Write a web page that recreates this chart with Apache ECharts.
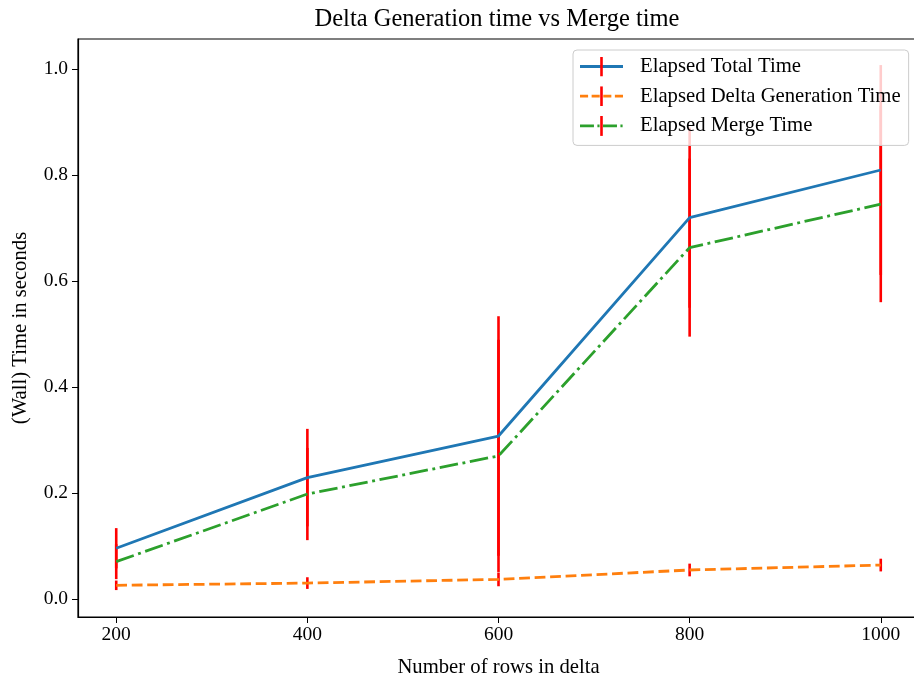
<!DOCTYPE html>
<html>
<head>
<meta charset="utf-8">
<script src="https://cdn.jsdelivr.net/npm/echarts@6/dist/echarts.min.js"></script>
<style>
  html, body { margin: 0; padding: 0; background: #fff; }
  #chart { width: 914px; height: 679px; }
</style>
</head>
<body>
<div id="chart"></div>
<script>
// data
let rows = [200, 400, 600, 800, 1000];
let totalTime = [0.0957, 0.229, 0.3075, 0.7195, 0.8094];
let deltaTime = [0.0258, 0.030, 0.037, 0.0547, 0.064];
let mergeTime = [0.0704, 0.198, 0.270, 0.663, 0.745];
// error (half height of the red bars)
let totalErr = [0.038, 0.092, 0.226, 0.170, 0.198];
let deltaErr = [0.009, 0.011, 0.013, 0.012, 0.012];
let mergeErr = [0.033, 0.087, 0.219, 0.168, 0.185];

let xTicks = [200, 400, 600, 800, 1000];
let yTicks = [0, 0.2, 0.4, 0.6, 0.8, 1.0];

let names = ['Elapsed Total Time', 'Elapsed Delta Generation Time', 'Elapsed Merge Time'];
let colors = ['#1f77b4', '#ff7f0e', '#2ca02c'];
let dashes = ['solid', [10.8, 4.7], [18.6, 4.6, 2.9, 4.6]];

let font = '"Liberation Serif", "Times New Roman", serif';

function pairs(ys) {
  let out = [];
  for (let i = 0; i < rows.length; i++) out.push([rows[i], ys[i]]);
  return out;
}

function errData(ys, es) {
  let out = [];
  for (let i = 0; i < rows.length; i++) out.push([rows[i], ys[i] - es[i], ys[i] + es[i]]);
  return out;
}

// legend icon: coloured line crossed by the red error bar
function legendIcon(color, dash) {
  let da = dash === 'solid' ? '' : ' stroke-dasharray="' + dash.map(function (d) { return d * 0.75; }).join(',') + '"';
  let svg = '<svg xmlns="http://www.w3.org/2000/svg" width="43" height="20">' +
    '<line x1="0" y1="10" x2="43" y2="10" stroke="' + color + '" stroke-width="2.8"' + da + '/>' +
    '<line x1="21.5" y1="0" x2="21.5" y2="20" stroke="#ff0000" stroke-width="2.6"/></svg>';
  return 'image://data:image/svg+xml;charset=utf-8,' + encodeURIComponent(svg);
}

function lineSerie(i, ys) {
  return {
    name: names[i],
    type: 'line',
    data: pairs(ys),
    symbol: 'none',
    showSymbol: false,
    z: 3,
    lineStyle: { color: colors[i], width: 2.8, type: dashes[i], cap: 'butt' },
    itemStyle: { color: colors[i] }
  };
}

function errSerie(ys, es) {
  return {
    type: 'custom',
    data: errData(ys, es),
    z: 2,
    silent: true,
    renderItem: function (params, api) {
      let p1 = api.coord([api.value(0), api.value(1)]);
      let p2 = api.coord([api.value(0), api.value(2)]);
      return {
        type: 'line',
        shape: { x1: p1[0], y1: p1[1], x2: p2[0], y2: p2[1] },
        style: { stroke: '#ff0000', lineWidth: 2.6 }
      };
    }
  };
}

let myChart = echarts.init(document.getElementById('chart'), null, { renderer: 'canvas' });

let option = {
  animation: false,
  backgroundColor: '#ffffff',
  textStyle: { fontFamily: font },
  title: {
    text: 'Delta Generation time vs Merge time',
    left: 492,
    top: 2,
    textAlign: 'center',
    textStyle: { fontFamily: font, fontSize: 24.5, fontWeight: 'normal', color: '#000' }
  },
  legend: {
    orient: 'vertical',
    left: 573,
    top: 50,
    padding: [6, 8, 9, 7],
    itemWidth: 43,
    itemHeight: 20,
    itemGap: 8.7,
    backgroundColor: 'rgba(255,255,255,0.8)',
    borderColor: '#cccccc',
    borderWidth: 1,
    borderRadius: 4,
    textStyle: { fontFamily: font, fontSize: 20.7, lineHeight: 20, color: '#000', padding: [0, 0, 0, 12] },
    data: names.map(function (n, i) { return { name: n, icon: legendIcon(colors[i], dashes[i]) }; })
  },
  grid: {
    left: 78,
    top: 39,
    right: -5,
    bottom: 62,
    show: true,
    borderColor: '#000',
    borderWidth: 1.2,
    containLabel: false,
    outerBoundsMode: 'none'
  },
  xAxis: {
    type: 'value',
    min: 160,
    max: 1040,
    name: 'Number of rows in delta',
    nameLocation: 'middle',
    nameGap: 40,
    nameTextStyle: { fontFamily: font, fontSize: 20.7, color: '#000' },
    axisLine: { show: true, onZero: false, lineStyle: { color: '#000', width: 1.2 } },
    axisTick: { show: true, inside: false, length: 6, customValues: xTicks, lineStyle: { color: '#000', width: 1 } },
    axisLabel: {
      customValues: xTicks, fontFamily: font, fontSize: 19.5, color: '#000', margin: 8,
      formatter: function (v) { return String(v); }
    },
    splitLine: { show: false }
  },
  yAxis: {
    type: 'value',
    min: -0.034,
    max: 1.0566,
    name: '(Wall) Time in seconds',
    nameLocation: 'middle',
    nameRotate: 90,
    nameGap: 47,
    nameTextStyle: { fontFamily: font, fontSize: 20.7, color: '#000' },
    axisLine: { show: true, onZero: false, lineStyle: { color: '#000', width: 1.2 } },
    axisTick: { show: true, inside: false, length: 6, customValues: yTicks, lineStyle: { color: '#000', width: 1 } },
    axisLabel: {
      customValues: yTicks,
      fontFamily: font, fontSize: 19.5, color: '#000', margin: 10,
      formatter: function (v) { return v.toFixed(1); }
    },
    splitLine: { show: false }
  },
  series: [
    errSerie(totalTime, totalErr),
    errSerie(deltaTime, deltaErr),
    errSerie(mergeTime, mergeErr),
    lineSerie(0, totalTime),
    lineSerie(1, deltaTime),
    lineSerie(2, mergeTime)
  ]
};

myChart.setOption(option);
</script>
</body>
</html>
